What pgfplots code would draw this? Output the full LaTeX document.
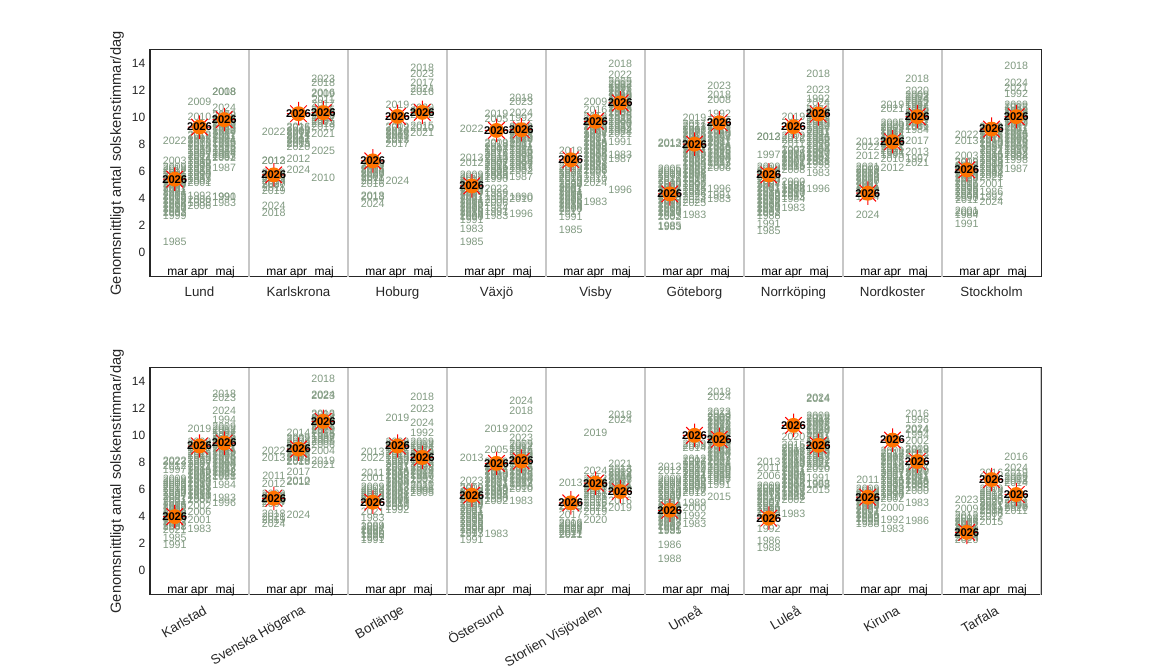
\documentclass[border=0pt]{standalone}
\usepackage{pgfplots}
\usepackage{pgfplotstable}
\usepackage{fontspec}
\setmainfont{Liberation Sans}
\pgfplotsset{compat=1.18}
\definecolor{yr}{rgb}{0.50,0.60,0.50}
\definecolor{lab}{rgb}{0.15,0.15,0.15}
\definecolor{sepc}{rgb}{0.78,0.78,0.78}
\definecolor{sunc}{rgb}{1,0.45,0}
\pgfdeclareplotmark{sun}{%
  \pgfsetstrokecolor{red}\pgfsetlinewidth{0.75pt}%
  \pgfpathmoveto{\pgfqpoint{-8.8pt}{0pt}}\pgfpathlineto{\pgfqpoint{8.8pt}{0pt}}%
  \pgfpathmoveto{\pgfqpoint{0pt}{-8.8pt}}\pgfpathlineto{\pgfqpoint{0pt}{8.8pt}}%
  \pgfpathmoveto{\pgfqpoint{-6.2pt}{-6.2pt}}\pgfpathlineto{\pgfqpoint{6.2pt}{6.2pt}}%
  \pgfpathmoveto{\pgfqpoint{-6.2pt}{6.2pt}}\pgfpathlineto{\pgfqpoint{6.2pt}{-6.2pt}}%
  \pgfusepathqstroke
  \pgfsetfillcolor{sunc}%
  \pgfpathcircle{\pgfpointorigin}{5.6pt}\pgfusepathqfill
}
\newcommand\cl[2]{\addplot[yrs] table[x expr=#1,y=y,meta=l,row sep=\\]{y l\\#2};}
\pgfplotstableread[row sep=\\]{x y\\
0.75 5.41\\1 9.28\\1.25 9.83\\1.75 5.73\\2 10.27\\2.25 10.35\\2.75 6.77\\3 10.07\\3.25 10.37\\3.75 4.91\\4 9.03\\4.25 9.08\\4.75 6.85\\5 9.70\\5.25 11.07\\5.75 4.32\\6 8.01\\6.25 9.60\\6.75 5.73\\7 9.31\\7.25 10.25\\7.75 4.37\\8 8.19\\8.25 10.05\\8.75 6.10\\9 9.13\\9.25 10.05\\
}\topsun
\pgfplotstableread[row sep=\\]{x y\\
0.75 3.97\\1 9.21\\1.25 9.43\\1.75 5.33\\2 8.98\\2.25 11.04\\2.75 5.04\\3 9.21\\3.25 8.36\\3.75 5.56\\4 7.92\\4.25 8.09\\4.75 4.99\\5 6.45\\5.25 5.83\\5.75 4.44\\6 10.0\\6.25 9.70\\6.75 3.85\\7 10.74\\7.25 9.26\\7.75 5.41\\8 9.65\\8.25 8.06\\8.75 2.80\\9 6.72\\9.25 5.61\\
}\botsun
\pgfplotstableread[row sep=\\]{x y l\\
0.78 -1.76 mar\\1 -1.76 apr\\1.26 -1.76 maj\\1.78 -1.76 mar\\2 -1.76 apr\\2.26 -1.76 maj\\2.78 -1.76 mar\\3 -1.76 apr\\3.26 -1.76 maj\\3.78 -1.76 mar\\4 -1.76 apr\\4.26 -1.76 maj\\4.78 -1.76 mar\\5 -1.76 apr\\5.26 -1.76 maj\\5.78 -1.76 mar\\6 -1.76 apr\\6.26 -1.76 maj\\6.78 -1.76 mar\\7 -1.76 apr\\7.26 -1.76 maj\\7.78 -1.76 mar\\8 -1.76 apr\\8.26 -1.76 maj\\8.78 -1.76 mar\\9 -1.76 apr\\9.26 -1.76 maj\\
}\months
\pgfplotsset{
  panel/.style={
    scale only axis, width=668.25pt, height=170.25pt,
    xmin=0.5, xmax=9.5, ymin=-1.85, ymax=15,
    xtick={1,2,3,4,5,6,7,8,9},
    ytick={0,2,4,6,8,10,12,14},
    major tick length=0pt,
    axis line style={lab, line width=0.75pt},
    /pgf/number format/assume math mode=true,
    yticklabel style={font=\fontsize{9}{10}\selectfont, text=lab},
    xticklabel style={font=\fontsize{10}{12}\selectfont, text=lab},
    ylabel={Genomsnittligt antal solskenstimmar/dag},
    every axis y label/.style={at={(axis description cs:-0.037,0.5)}, rotate=90, anchor=center,
      font=\fontsize{11}{12}\selectfont, text=lab},
    unbounded coords=jump,
  },
  yrs/.style={only marks, mark=none, point meta=explicit symbolic, nodes near coords,
    every node near coord/.append style={anchor=center, inner sep=0pt, text=yr, font=\fontsize{8}{9}\selectfont}},
  mon/.style={only marks, mark=none, point meta=explicit symbolic, nodes near coords,
    every node near coord/.append style={anchor=base, inner sep=0pt, text=black, font=\fontsize{9}{10}\selectfont}},
  suns/.style={only marks, mark=sun, nodes near coords={2026},
    every node near coord/.append style={anchor=center, inner sep=0pt, text=black, font=\fontsize{8.4}{9}\selectfont\bfseries}},
  seps/.style={sepc, line width=1.2pt, forget plot},
}
\begin{document}
\begin{tikzpicture}
\useasboundingbox (0,0) rectangle (862.5pt,503.25pt);
\begin{axis}[panel, at={(112.5pt,295.5pt)}, anchor=south west,
  xticklabels={Lund,Karlskrona,Hoburg,Växjö,Visby,Göteborg,Norrköping,Nordkoster,Stockholm},
  xticklabel style={yshift=-4pt}]
\addplot[seps] coordinates {(1.5,-1.85)(1.5,15)(1.5,nan)(2.5,-1.85)(2.5,15)(2.5,nan)(3.5,-1.85)(3.5,15)(3.5,nan)(4.5,-1.85)(4.5,15)(4.5,nan)(5.5,-1.85)(5.5,15)(5.5,nan)(6.5,-1.85)(6.5,15)(6.5,nan)(7.5,-1.85)(7.5,15)(7.5,nan)(8.5,-1.85)(8.5,15)};
\cl{0.75}{0.74 1985\\8.26 2022\\6.80 2003\\6.3 2009\\6.2 2018\\6.0 2012\\5.9 1997\\5.7 2005\\5.6 2016\\5.4 2014\\5.3 1989\\5.1 2020\\5.0 1994\\4.8 2007\\4.7 2011\\4.5 2001\\4.4 1984\\4.2 2015\\4.1 2008\\3.9 1995\\3.8 2019\\3.6 1986\\3.5 2004\\3.3 1990\\3.2 2017\\3.0 1993\\2.9 2002\\2.7 1999\\}
\cl{1}{11.12 2009\\10.07 2010\\8.7 2018\\8.6 2012\\8.4 1997\\8.3 2005\\8.1 2016\\8.0 2003\\7.8 2014\\7.7 1989\\7.5 2020\\7.4 1994\\7.2 2007\\7.1 2011\\6.9 1984\\6.8 2015\\6.6 1999\\6.5 2008\\6.3 1995\\6.2 2019\\6.0 1986\\5.9 2004\\5.7 1990\\5.6 2017\\5.4 1993\\5.3 2002\\5.11 2001\\4.17 1992\\3.87 2000\\3.65 1988\\3.45 2006\\}
\cl{1.25}{11.86 2018\\11.86 2008\\10.7 2024\\10.2 2009\\10.1 2012\\9.9 2003\\9.8 1997\\9.6 2005\\9.5 2016\\9.3 2014\\9.2 1989\\9.0 2020\\8.9 1994\\8.7 2007\\8.6 2011\\8.4 2001\\8.3 1984\\8.1 2015\\8.0 1999\\7.8 1995\\7.7 2019\\7.5 1986\\7.4 2004\\7.2 2017\\7.1 1993\\6.97 2002\\6.23 1987\\4.12 1990\\4.07 1991\\3.62 1983\\}
\cl{1.75}{8.93 2022\\6.80 2013\\6.75 2012\\5.85 2009\\5.7 2003\\5.6 2016\\5.4 2005\\5.3 2014\\5.1 2020\\5.0 2007\\4.8 2011\\4.57 2019\\3.45 2024\\2.95 2018\\}
\cl{2}{9.3 2016\\9.2 2025\\9.0 2003\\8.9 2009\\8.7 2014\\8.6 2021\\8.4 2011\\8.3 2007\\8.1 2005\\8.0 2013\\7.8 2020\\6.92 2012\\6.10 2024\\}
\cl{2.25}{12.85 2023\\12.56 2018\\11.81 2016\\11.75 2009\\11.3 2011\\11.0 2017\\10.55 2015\\10.4 2003\\10.3 2014\\10.1 2020\\10.0 2012\\9.8 2007\\9.7 2005\\9.5 2013\\9.3 2019\\8.78 2021\\7.52 2025\\5.53 2010\\}
\cl{2.75}{6.5 2009\\6.4 2012\\6.2 2003\\6.1 2014\\5.9 2020\\5.8 2005\\5.6 2007\\5.5 2011\\5.3 2019\\5.06 2016\\4.17 2018\\4.07 2013\\3.57 2024\\}
\cl{3}{10.94 2019\\9.3 2009\\9.2 2012\\9.0 2014\\8.9 2020\\8.7 2005\\8.6 2011\\8.4 2007\\8.3 2013\\8.01 2017\\5.26 2024\\}
\cl{3.25}{13.67 2018\\13.23 2023\\12.56 2017\\12.13 2024\\11.86 2016\\10.7 2020\\10.5 2009\\10.3 2013\\10.2 2012\\9.38 2015\\9.2 2010\\8.88 2021\\}
\cl{3.75}{9.13 2022\\7.02 2013\\6.65 2012\\5.7 2009\\5.6 2003\\5.4 2018\\5.3 1997\\5.1 2005\\5.0 2016\\4.8 2014\\4.7 1989\\4.5 2020\\4.4 1994\\4.2 2007\\4.1 2011\\3.9 2001\\3.8 1984\\3.6 2015\\3.5 1999\\3.3 2008\\3.2 1995\\3.0 2019\\2.9 1986\\2.7 2004\\2.6 1990\\2.4 1991\\1.71 1983\\0.74 1985\\}
\cl{4}{10.27 2019\\9.88 2005\\8.1 2009\\8.0 2018\\7.8 2012\\7.7 2003\\7.5 1997\\7.4 2016\\7.2 2014\\7.1 2011\\6.9 2020\\6.8 1994\\6.6 2007\\6.5 2001\\6.3 2015\\6.2 1999\\6.0 2008\\5.9 1995\\5.7 1986\\5.6 2004\\5.4 1990\\4.69 2022\\4.4 1989\\4.12 1992\\3.9 2000\\3.62 2006\\3.3 1984\\3.0 1991\\2.68 1983\\}
\cl{4.25}{11.44 2018\\11.14 2023\\10.37 2024\\10.0 1992\\9.3 2009\\9.2 2012\\9.0 2003\\8.9 2016\\8.7 2014\\8.6 2005\\8.4 2020\\8.3 1994\\8.1 2007\\8.0 2011\\7.8 2001\\7.7 1984\\7.5 2015\\7.4 1999\\7.2 2008\\7.1 1995\\6.9 2019\\6.8 1986\\6.6 2004\\6.5 1997\\6.3 2017\\6.2 1993\\6.0 2002\\5.6 1987\\4.07 1990\\3.92 2010\\2.83 1996\\}
\cl{4.75}{7.5 2018\\6.3 2009\\6.2 2012\\6.0 2003\\5.9 1997\\5.7 2005\\5.6 2016\\5.4 2014\\5.3 1989\\5.1 2020\\5.0 1994\\4.8 2007\\4.7 2011\\4.5 2001\\4.4 1984\\4.2 2015\\4.1 1999\\3.9 2008\\3.8 1995\\3.6 2019\\3.5 1986\\3.3 2004\\3.2 1990\\3.0 2017\\2.63 1991\\1.64 1985\\}
\cl{5}{11.12 2009\\10.57 2016\\10.05 2018\\9.9 2012\\9.7 2003\\9.6 1997\\9.4 2005\\9.3 2014\\9.1 1989\\9.0 2020\\8.8 1994\\8.7 2007\\8.5 2011\\8.4 2001\\8.2 1984\\8.1 2015\\7.9 1999\\7.8 2008\\7.6 1995\\7.5 2019\\7.3 1986\\7.2 2004\\7.0 1990\\6.9 2017\\6.7 1993\\6.6 2002\\6.4 1988\\6.3 2021\\6.1 1998\\6.0 2006\\5.7 1991\\5.4 2010\\5.11 2024\\3.72 1983\\}
\cl{5.25}{14.0 2018\\13.18 2022\\12.65 2009\\12.5 2012\\12.4 2003\\12.2 1997\\12.1 2005\\11.9 2016\\11.8 2014\\11.6 1989\\11.5 2020\\11.3 1994\\11.2 2007\\11.0 2011\\10.9 2001\\10.7 1984\\10.6 2015\\10.4 1999\\10.3 2008\\10.1 1995\\10.0 2019\\9.8 1986\\9.7 2004\\9.5 1990\\9.4 2017\\9.2 1993\\9.1 2002\\8.9 1988\\8.8 2021\\8.21 1991\\7.22 1983\\6.9 1987\\4.62 1996\\}
\cl{5.75}{8.09 2013\\8.05 2012\\6.15 2005\\6.0 2009\\5.9 2018\\5.7 2003\\5.6 1997\\5.4 2016\\5.3 2014\\5.1 1989\\5.0 2020\\4.8 1994\\4.7 2007\\4.5 2011\\4.4 2001\\4.2 1984\\4.1 2015\\3.9 1999\\3.8 2008\\3.6 1995\\3.5 2019\\3.3 1986\\3.2 2004\\3.0 1990\\2.9 2017\\2.7 1993\\2.62 2002\\1.95 1985\\1.84 1983\\}
\cl{6}{9.95 2019\\9.55 2017\\9.4 2021\\9.3 2012\\9.1 2003\\9.0 1997\\8.8 2005\\8.7 2016\\8.5 2014\\8.4 1989\\8.2 2020\\8.1 1994\\7.9 2007\\7.8 2011\\7.6 2001\\7.5 1984\\7.3 2015\\7.2 1999\\7.0 2008\\6.9 1995\\6.7 1986\\6.6 2004\\6.4 1990\\6.3 1993\\6.1 2002\\6.0 1988\\5.8 1998\\5.7 2006\\5.5 1991\\5.4 2010\\5.2 1987\\5.1 2000\\4.9 1992\\4.8 2013\\4.6 1985\\4.5 2022\\4.3 1996\\4.1 2023\\3.9 2024\\3.65 2025\\2.75 1983\\}
\cl{6.25}{12.36 2023\\11.69 2018\\11.32 2008\\10.27 1992\\9.7 2012\\9.6 2003\\9.4 1997\\9.3 2005\\9.1 2016\\9.0 2014\\8.8 1989\\8.7 2020\\8.5 1994\\8.4 2007\\8.2 2011\\8.1 2001\\7.9 1984\\7.8 2015\\7.6 1999\\7.5 1995\\7.3 2019\\7.2 1986\\7.0 2004\\6.9 1990\\6.7 2017\\6.6 1993\\6.4 2002\\6.25 2006\\4.67 1996\\4.24 1991\\3.92 1983\\}
\cl{6.75}{8.59 2013\\8.55 2012\\7.22 1997\\6.3 2009\\6.2 2018\\6.0 2003\\5.9 2005\\5.7 2016\\5.6 2014\\5.4 1989\\5.3 2020\\5.1 1994\\5.0 2007\\4.8 2011\\4.7 2001\\4.5 1984\\4.4 2015\\4.2 1999\\4.1 2008\\3.9 1995\\3.8 2019\\3.6 1986\\3.5 2004\\3.3 1990\\3.2 2017\\3.0 1993\\2.9 2002\\2.7 1988\\2.13 1991\\1.59 1985\\}
\cl{7}{10.02 2019\\8.6 2009\\8.5 2012\\8.3 2016\\8.05 2011\\7.6 2003\\7.5 1997\\7.3 2005\\7.2 2014\\7.0 1989\\6.9 2020\\6.7 2007\\6.6 2001\\6.4 2015\\6.3 1999\\6.1 2008\\5.24 2000\\5.0 1994\\4.9 1995\\4.7 1986\\4.6 2004\\4.4 1990\\4.3 2017\\4.1 1993\\3.95 1984\\3.3 1983\\}
\cl{7.25}{13.25 2018\\12.06 2023\\11.36 1992\\11.07 2024\\10.55 2009\\10.4 2012\\10.3 2003\\10.1 1997\\10.0 2005\\9.8 2016\\9.7 2014\\9.5 1989\\9.4 2020\\9.2 1994\\9.1 2007\\8.9 2011\\8.8 2001\\8.6 1984\\8.5 2015\\8.3 1999\\8.2 2008\\8.0 1995\\7.9 2019\\7.7 1986\\7.6 2004\\7.4 1990\\7.3 2017\\7.1 1993\\7.0 2002\\6.8 1988\\6.7 2021\\6.5 1998\\5.91 1983\\4.69 1996\\}
\cl{7.75}{8.21 2013\\7.79 2022\\7.12 2012\\6.35 2021\\6.2 2009\\6.1 2018\\5.9 2014\\5.8 2005\\5.6 2016\\5.5 2003\\5.3 2020\\5.2 2007\\5.0 2011\\4.9 2001\\4.7 1994\\4.6 1989\\4.4 1997\\4.1 1984\\2.75 2024\\}
\cl{8}{10.94 2019\\10.62 2021\\9.58 2005\\9.45 2020\\9.3 2009\\9.2 2003\\9.0 2014\\8.9 1997\\8.7 1994\\8.6 2015\\8.4 1999\\8.3 2008\\8.1 2018\\8.0 2007\\7.8 2011\\7.7 2016\\7.5 2001\\7.4 1984\\7.2 1995\\6.95 2010\\6.28 2012\\}
\cl{8.25}{12.88 2018\\11.94 2020\\11.65 2009\\11.5 2003\\11.4 2014\\11.2 2005\\11.1 2012\\10.9 1997\\10.8 1994\\10.6 2015\\10.5 1999\\10.3 2008\\10.2 2019\\10.0 1995\\9.9 2004\\9.7 2011\\9.6 2007\\9.4 2016\\9.3 2001\\9.1 1984\\8.26 2017\\7.47 2013\\6.92 1997\\6.6 2021\\}
\cl{8.75}{8.71 2022\\8.29 2013\\7.15 2003\\6.7 2009\\6.6 2018\\6.4 2012\\6.3 1997\\6.1 2005\\6.0 2016\\5.8 2014\\5.7 1989\\5.5 2020\\5.4 1994\\5.2 2007\\5.1 2015\\4.9 1999\\4.8 2008\\4.6 1995\\4.5 2019\\4.3 1986\\4.2 2004\\4.0 1990\\3.9 2011\\3.05 2001\\2.9 2000\\2.8 1984\\2.06 1991\\}
\cl{9}{9.3 2009\\9.2 2003\\9.0 2018\\8.9 2012\\8.7 1997\\8.6 2005\\8.4 2016\\8.3 2014\\8.1 1989\\8.0 2020\\7.8 1994\\7.7 2007\\7.5 2011\\7.4 1984\\7.2 2015\\7.1 1999\\6.9 2008\\6.8 1995\\6.6 2019\\6.5 2004\\6.3 1990\\6.2 2017\\6.0 1993\\5.9 2002\\5.7 1988\\5.6 2021\\5.06 2001\\4.49 1986\\4.12 1992\\3.75 2024\\}
\cl{9.25}{13.8 2018\\12.56 2024\\12.16 2021\\11.74 1992\\10.95 2009\\10.8 2012\\10.7 1985\\10.5 2003\\10.4 1989\\10.2 2005\\10.1 2016\\9.9 2014\\9.8 1997\\9.6 2020\\9.5 1994\\9.3 2007\\9.2 2011\\9.0 2001\\8.9 1984\\8.7 2015\\8.6 1999\\8.4 2008\\8.3 1995\\8.1 2019\\8.0 1986\\7.8 2004\\7.7 1990\\7.5 2017\\7.4 1993\\7.2 2002\\7.1 1988\\6.85 1998\\6.15 1987\\}
\addplot[mon] table[x=x,y=y,meta=l]{\months};
\addplot[suns] table[x=x,y=y]{\topsun};
\end{axis}
\begin{axis}[panel, at={(112.5pt,57pt)}, anchor=south west,
  xticklabels={Karlstad,Svenska Högarna,Borlänge,Östersund,Storlien Visjövalen,Umeå,Luleå,Kiruna,Tarfala},
  xticklabel style={rotate=30, anchor=east, xshift=1.8pt, yshift=-11.5pt}]
\addplot[seps] coordinates {(1.5,-1.85)(1.5,15)(1.5,nan)(2.5,-1.85)(2.5,15)(2.5,nan)(3.5,-1.85)(3.5,15)(3.5,nan)(4.5,-1.85)(4.5,15)(4.5,nan)(5.5,-1.85)(5.5,15)(5.5,nan)(6.5,-1.85)(6.5,15)(6.5,nan)(7.5,-1.85)(7.5,15)(7.5,nan)(8.5,-1.85)(8.5,15)(8.5,nan)(9.5,-1.85)(9.5,15)};
\cl{0.75}{8.11 2022\\8.05 2023\\7.74 2012\\7.42 1997\\6.75 2009\\6.6 2018\\6.5 2003\\6.3 2005\\6.2 2016\\6.0 2014\\5.9 1989\\5.7 2020\\5.6 1994\\5.4 2007\\5.3 2011\\5.1 2001\\5.0 1984\\4.8 2015\\4.7 1999\\4.5 2008\\4.4 1995\\4.2 2019\\4.1 1986\\3.9 2004\\3.8 1990\\3.6 2017\\3.5 1993\\3.3 2002\\3.2 1988\\3.0 2021\\2.4 1985\\1.84 1991\\}
\cl{1}{10.52 2019\\9.5 2009\\9.4 2018\\9.2 2012\\9.1 2003\\8.9 1997\\8.8 2005\\8.6 2016\\8.5 2014\\8.3 1989\\8.2 2020\\8.0 1994\\7.9 2007\\7.7 2011\\7.6 1984\\7.4 2015\\7.3 1999\\7.1 2008\\7.0 1995\\6.8 1986\\6.7 2004\\6.5 1990\\6.4 2017\\6.2 1993\\6.1 1988\\5.9 2021\\5.8 1998\\5.6 1991\\5.5 2010\\5.3 1987\\5.25 2000\\4.8 2002\\4.34 2006\\3.72 2001\\3.03 1983\\}
\cl{1.25}{13.08 2018\\12.78 2023\\11.84 2024\\11.17 1994\\10.6 2009\\10.5 2012\\10.3 2003\\10.2 1997\\10.0 2005\\9.9 2016\\9.7 2014\\9.6 1989\\9.4 2020\\9.3 2007\\9.1 2011\\9.0 2001\\8.8 2015\\8.7 1999\\8.5 2008\\8.4 1995\\8.2 2019\\8.1 1986\\7.9 2004\\7.8 1990\\7.6 2017\\7.5 1993\\7.3 2002\\7.2 1988\\7.0 2021\\6.9 1998\\6.33 1984\\5.33 1983\\5.01 1996\\}
\cl{1.75}{8.86 2022\\8.31 2013\\7.02 2011\\6.38 2012\\5.65 2009\\5.5 2003\\5.4 2016\\5.2 2005\\5.1 2014\\4.95 2007\\4.14 2018\\3.95 2021\\3.7 2019\\3.47 2024\\}
\cl{2}{10.17 2014\\9.8 2009\\9.7 2003\\9.5 2006\\9.4 2015\\9.2 2019\\9.0 2011\\8.9 2021\\8.7 2007\\8.6 2016\\8.4 2005\\8.3 2013\\8.1 2020\\8.0 2018\\7.32 2017\\6.63 2010\\6.58 2012\\4.07 2024\\}
\cl{2.25}{14.19 2018\\13.0 2024\\12.95 2023\\11.6 2013\\11.5 2009\\11.3 2003\\11.2 2014\\11.0 2011\\10.9 2007\\10.7 2012\\10.6 2016\\10.4 2020\\10.3 2001\\10.1 2015\\10.0 1999\\9.8 1997\\9.7 2008\\9.5 2005\\9.3 2006\\8.86 2004\\8.11 2019\\7.84 2021\\}
\cl{2.75}{8.81 2013\\8.31 2022\\7.25 2011\\6.87 2001\\6.15 2009\\6.0 2003\\5.9 2016\\5.7 2005\\5.6 2014\\5.4 2020\\5.3 2007\\5.2 2012\\4.32 2021\\3.85 1983\\3.3 1989\\3.2 2004\\3.0 2007\\2.9 1986\\2.7 1990\\2.6 1995\\2.4 1999\\2.28 1991\\}
\cl{3}{11.27 2019\\9.5 2009\\9.4 2003\\9.2 2018\\9.1 2012\\8.9 1997\\8.8 2005\\8.6 2016\\8.5 2014\\8.3 1989\\8.2 2020\\8.0 1994\\7.9 2007\\7.7 2011\\7.6 2001\\7.4 1984\\7.3 2015\\7.1 1999\\7.0 2008\\6.8 1995\\6.7 1986\\6.5 2004\\6.4 1990\\6.2 2017\\6.1 1993\\5.9 2002\\5.8 1988\\5.6 2021\\5.5 1998\\5.3 2006\\5.2 1991\\5.0 2010\\4.9 1987\\4.7 2000\\4.5 1992\\}
\cl{3.25}{12.83 2018\\11.96 2023\\10.92 2024\\10.22 1992\\9.5 2009\\9.4 2012\\9.2 2003\\9.1 1997\\8.9 2016\\8.8 2014\\8.6 2020\\8.5 2007\\8.3 2011\\8.2 2001\\8.0 1995\\7.9 2015\\7.7 1999\\7.6 2008\\7.4 2019\\7.3 2004\\7.1 2017\\7.0 1990\\6.8 1993\\6.7 2002\\6.3 2010\\6.2 2021\\6.0 2006\\5.9 1998\\5.71 2005\\}
\cl{3.75}{8.36 2013\\6.63 2023\\6.1 2009\\6.0 2018\\5.8 2012\\5.7 1997\\5.5 2005\\5.4 2016\\5.2 2014\\5.1 1989\\4.9 2020\\4.8 1994\\4.6 2007\\4.5 2011\\4.3 2001\\4.2 1984\\4.0 2015\\3.9 1999\\3.7 2008\\3.6 1995\\3.4 2019\\3.3 1986\\3.1 2004\\3.0 1990\\2.8 2017\\2.7 1993\\2.28 1991\\}
\cl{4}{10.47 2019\\8.91 2005\\8.0 2009\\7.9 2018\\7.7 2012\\7.6 1997\\7.4 2016\\7.3 2014\\7.1 1989\\7.0 2020\\6.8 1994\\6.7 2007\\6.5 2011\\6.4 2001\\6.2 1984\\6.1 2015\\5.9 1999\\5.8 2008\\5.6 1995\\5.5 2004\\5.3 1990\\5.15 2002\\2.66 1983\\}
\cl{4.25}{12.53 2024\\11.79 2018\\10.47 2002\\9.78 2023\\9.35 2009\\9.2 2012\\9.1 1997\\8.9 2016\\8.8 2014\\8.6 1989\\8.5 2020\\8.3 1994\\8.2 2007\\8.0 2011\\7.9 2001\\7.7 1984\\7.6 2015\\7.4 1999\\7.3 2008\\7.1 1995\\7.0 2019\\6.8 2004\\6.7 1990\\6.5 2017\\6.4 1993\\6.2 2006\\6.0 2010\\5.14 1983\\}
\cl{4.75}{6.45 2013\\5.0 2012\\4.8 2009\\4.7 2005\\4.07 2017\\3.52 2016\\3.4 2003\\3.25 2018\\3.1 2006\\3.0 2004\\2.85 2014\\2.7 2011\\2.58 2021\\}
\cl{5}{10.17 2019\\7.37 2024\\6.75 2012\\6.6 2014\\6.5 2003\\6.3 2009\\6.2 2005\\6.0 2007\\5.9 2011\\5.7 2018\\5.6 2001\\5.4 2015\\5.2 2006\\5.0 2016\\4.8 2022\\4.6 2025\\4.32 2019\\3.7 2020\\}
\cl{5.25}{11.54 2018\\11.12 2024\\7.87 2021\\7.49 2013\\7.3 2009\\7.2 2012\\7.0 2014\\6.9 2003\\6.7 2005\\6.6 2007\\6.4 2011\\6.3 2001\\6.1 2015\\6.0 2020\\5.14 2016\\4.64 2019\\}
\cl{5.75}{7.69 2013\\7.37 2012\\6.75 2009\\6.6 2018\\6.5 2003\\6.3 1997\\6.2 2005\\6.0 2016\\5.9 2014\\5.7 1989\\5.6 2020\\5.4 1994\\5.3 2007\\5.1 2011\\5.0 2001\\4.8 1984\\4.7 2015\\4.5 1999\\4.4 2008\\4.2 1995\\4.1 2019\\3.9 2004\\3.8 1990\\3.6 2017\\3.5 1993\\3.3 2002\\3.2 1987\\3.0 1991\\2.9 1985\\1.91 1986\\0.87 1988\\}
\cl{6}{9.35 2009\\9.2 2005\\9.1 2014\\8.25 2012\\8.1 2003\\8.0 1997\\7.8 2016\\7.7 2007\\7.5 2020\\7.4 1994\\7.2 2011\\7.1 2001\\6.9 1984\\6.8 2015\\6.6 1999\\6.5 2008\\6.3 1995\\6.2 2004\\6.0 1990\\5.9 2017\\5.75 2018\\5.01 1989\\4.59 2000\\4.02 1992\\3.47 1983\\}
\cl{6.25}{13.2 2018\\12.88 2024\\11.71 2023\\11.6 2013\\11.4 2009\\11.3 2003\\11.1 1997\\11.0 2005\\10.8 2016\\10.7 1992\\10.5 2014\\10.4 1989\\10.2 2020\\10.1 1994\\9.9 2007\\9.8 2011\\9.6 2001\\9.5 1984\\9.3 1999\\9.2 2008\\9.0 1995\\8.9 2019\\8.7 2004\\8.6 1990\\8.4 2017\\8.3 1993\\8.1 2002\\8.0 2021\\7.8 1998\\7.7 2006\\7.5 2010\\7.4 2000\\7.2 1986\\7.1 2012\\6.9 1999\\6.8 1985\\6.6 1987\\6.35 1991\\5.46 2015\\}
\cl{6.75}{8.04 2013\\7.57 2011\\7.0 2006\\6.25 2009\\6.1 2018\\6.0 2003\\5.8 1997\\5.7 2005\\5.5 2016\\5.4 2014\\5.2 2020\\5.1 2007\\4.9 2001\\4.8 1984\\4.6 2015\\4.5 1999\\4.3 2008\\4.2 1995\\3.03 1992\\2.16 1986\\1.66 1988\\}
\cl{7}{9.9 2020\\9.28 2015\\9.1 2018\\9.0 2012\\8.8 2003\\8.7 1997\\8.5 2005\\8.4 2016\\8.2 2014\\8.1 1989\\7.9 2020\\7.8 1994\\7.6 2007\\7.5 2011\\7.3 2001\\7.2 1984\\7.0 1999\\6.9 2008\\6.7 1995\\6.6 2019\\6.4 1986\\6.3 2004\\6.1 1990\\6.0 2017\\5.8 1993\\5.7 1988\\5.5 2021\\5.4 1998\\5.25 2002\\4.14 1983\\}
\cl{7.25}{12.78 2024\\12.72 2014\\11.45 2009\\11.3 2018\\11.2 2012\\11.0 2003\\10.9 1997\\10.7 2005\\10.6 2016\\10.4 2020\\10.3 1994\\10.1 2007\\10.0 2011\\9.8 2001\\9.7 1984\\9.5 1999\\9.4 2008\\9.2 1995\\9.1 2019\\8.9 1986\\8.8 2004\\8.6 1990\\8.5 2017\\8.3 1993\\8.2 2002\\8.0 1987\\7.9 2021\\7.7 2006\\7.5 2010\\6.87 1991\\6.38 1983\\6.3 1998\\5.96 2015\\}
\cl{7.75}{6.7 2011\\6.0 2009\\5.9 2018\\5.7 2003\\5.6 2012\\5.4 2005\\5.3 2016\\5.1 2014\\5.0 1989\\4.8 2020\\4.7 1994\\4.5 2007\\4.4 2001\\4.2 1984\\4.1 2015\\3.9 1999\\3.8 2008\\3.6 1995\\3.47 1988\\}
\cl{8}{8.85 2009\\8.7 2018\\8.6 2012\\8.4 2003\\8.3 1997\\8.1 2005\\8.0 2016\\7.8 2014\\7.7 1989\\7.5 2020\\7.4 1994\\7.2 2007\\7.1 2011\\6.9 2001\\6.8 1984\\6.6 2015\\6.5 1999\\6.3 2008\\6.2 1995\\6.0 2019\\5.9 1986\\5.7 2004\\5.6 1990\\5.4 2017\\5.3 2002\\4.64 2000\\3.7 1992\\3.03 1983\\}
\cl{8.25}{11.59 2016\\11.17 1996\\10.47 2024\\10.4 2014\\10.02 1994\\9.6 2002\\9.0 2009\\8.9 2018\\8.7 2012\\8.6 2003\\7.6 1997\\7.5 2005\\7.3 2020\\7.2 2007\\7.0 2011\\6.9 2001\\6.7 1984\\6.6 2015\\6.4 1999\\6.3 2008\\6.1 1995\\5.9 2000\\5.01 1983\\3.67 1986\\}
\cl{8.75}{5.19 2023\\4.52 2009\\4.05 2012\\3.9 2018\\3.8 2003\\3.6 2014\\3.5 2005\\3.3 2007\\3.2 2016\\3.0 2011\\2.9 2019\\2.7 2001\\2.6 2015\\2.4 2004\\2.21 2020\\}
\cl{9}{7.25 2016\\6.0 2009\\5.9 2018\\5.7 2012\\5.6 2003\\5.4 2014\\5.3 2005\\5.1 2020\\5.0 2007\\4.8 2011\\4.7 2001\\4.5 2019\\4.4 2004\\4.2 2006\\3.97 2017\\3.57 2015\\}
\cl{9.25}{8.44 2016\\7.62 2024\\7.25 2019\\6.9 2009\\6.8 2012\\6.6 2003\\6.5 2014\\5.2 2007\\5.0 2018\\4.9 2001\\4.75 2005\\4.6 2020\\4.39 2011\\}
\addplot[mon] table[x=x,y=y,meta=l]{\months};
\addplot[suns] table[x=x,y=y]{\botsun};
\end{axis}
\end{tikzpicture}
\end{document}
